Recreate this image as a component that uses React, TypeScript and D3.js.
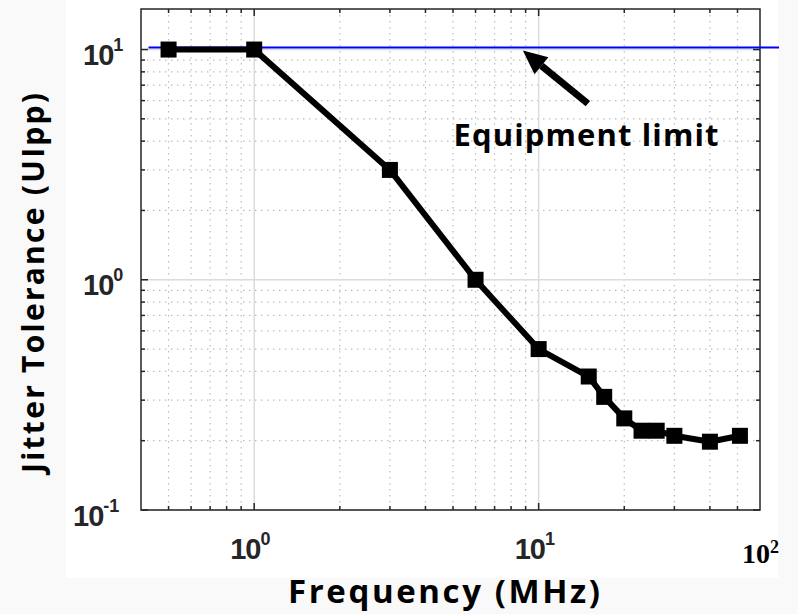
import React from "react";
import * as d3 from "d3";

const freqMHz = [0.5, 1, 3, 6, 10, 15, 17, 20, 23, 26, 30, 40, 51];
const jitterUIpp = [10, 10, 3.0, 1.0, 0.5, 0.38, 0.31, 0.25, 0.221, 0.221, 0.21, 0.198, 0.21];
const xMajorTicks = [1, 10];
const xMinorTicks = [0.5, 0.6, 0.7, 0.8, 0.9, 2, 3, 4, 5, 6, 7, 8, 9, 20, 30, 40, 50];
const yMajorTicks = [0.1, 1, 10];
const yMinorTicks = [0.2, 0.3, 0.4, 0.5, 0.6, 0.7, 0.8, 0.9, 2, 3, 4, 5, 6, 7, 8, 9];
const yTickLabels = [{ v: 10, exp: "1" }, { v: 1, exp: "0" }, { v: 0.1, exp: "-1" }];
const xTickLabels = [{ v: 1, exp: "0" }, { v: 10, exp: "1" }];
const limitLine = { from: 0.425, to: 70, value: 10.2 };
const arrowAnn = { tailX: 14.9, tailY: 5.82, tipX: 8.8, tipY: 9.9 };
const labelAnn = { x: 5.02, y: 3.83, text: "Equipment limit" };

export default function App() {
  const W = 798, H = 614;
  const x = d3.scaleLog().domain([0.4, 60]).range([141, 760]);
  const y = d3.scaleLog().domain([0.1, 15]).range([510, 9]);
  const [x0, x1] = x.range();
  const [y0, y1] = y.range();
  const line = d3.line<number>().x((_, i) => x(freqMHz[i])).y((d) => y(d));
  const axisColor = "#262626";
  const dotted = { stroke: "#bdbdbd", strokeWidth: 1.2, strokeDasharray: "1.5,4.5" };
  const tickFont = "'Liberation Sans', Arial, sans-serif";
  const titleFont = "'Open Sans', sans-serif";

  const ax1 = x(arrowAnn.tailX), ay1 = y(arrowAnn.tailY);
  const ax2 = x(arrowAnn.tipX), ay2 = y(arrowAnn.tipY);
  const ang = Math.atan2(ay2 - ay1, ax2 - ax1);
  const headLen = 24, headW = 11;
  const bx = ax2 - headLen * Math.cos(ang), by = ay2 - headLen * Math.sin(ang);
  const px = -Math.sin(ang), py = Math.cos(ang);

  return (
    <svg width={W} height={H} style={{ position: "absolute", left: 0, top: 0 }}>
      <rect x={0} y={0} width={W} height={H} fill="#f9f9f9" />
      <rect x={66} y={0} width={712} height={578} fill="#ffffff" />
      {xMinorTicks.map((t) => (
        <line key={"gx" + t} x1={x(t)} x2={x(t)} y1={y1} y2={y0} {...dotted} />
      ))}
      {yMinorTicks.map((t) => (
        <line key={"gy" + t} x1={x0} x2={x1} y1={y(t)} y2={y(t)} {...dotted} />
      ))}
      {xMajorTicks.map((t) => (
        <line key={"GX" + t} x1={x(t)} x2={x(t)} y1={y1} y2={y0} stroke="#dcdcdc" strokeWidth={1.5} />
      ))}
      {yMajorTicks.map((t) => (
        <line key={"GY" + t} x1={x0} x2={x1} y1={y(t)} y2={y(t)} stroke="#dcdcdc" strokeWidth={1.5} />
      ))}
      {xMinorTicks.map((t) => (
        <g key={"tx" + t}>
          <line x1={x(t)} x2={x(t)} y1={y0} y2={y0 - 4} stroke={axisColor} strokeWidth={1.5} />
          <line x1={x(t)} x2={x(t)} y1={y1} y2={y1 + 4} stroke={axisColor} strokeWidth={1.5} />
        </g>
      ))}
      {xMajorTicks.map((t) => (
        <g key={"TX" + t}>
          <line x1={x(t)} x2={x(t)} y1={y0} y2={y0 - 7} stroke={axisColor} strokeWidth={1.5} />
          <line x1={x(t)} x2={x(t)} y1={y1} y2={y1 + 7} stroke={axisColor} strokeWidth={1.5} />
        </g>
      ))}
      {yMinorTicks.map((t) => (
        <g key={"ty" + t}>
          <line x1={x0} x2={x0 + 4} y1={y(t)} y2={y(t)} stroke={axisColor} strokeWidth={1.5} />
          <line x1={x1} x2={x1 - 4} y1={y(t)} y2={y(t)} stroke={axisColor} strokeWidth={1.5} />
        </g>
      ))}
      {yMajorTicks.map((t) => (
        <g key={"TY" + t}>
          <line x1={x0} x2={x0 + 7} y1={y(t)} y2={y(t)} stroke={axisColor} strokeWidth={1.5} />
          <line x1={x1} x2={x1 - 7} y1={y(t)} y2={y(t)} stroke={axisColor} strokeWidth={1.5} />
        </g>
      ))}
      <rect x={x0} y={y1} width={x1 - x0} height={y0 - y1} fill="none" stroke={axisColor} strokeWidth={1.5} />
      <line x1={x(limitLine.from)} x2={x(limitLine.to)} y1={y(limitLine.value)} y2={y(limitLine.value)} stroke="#0000ff" strokeWidth={2} />
      <path d={line(jitterUIpp) || ""} fill="none" stroke="#000" strokeWidth={6} strokeLinejoin="round" />
      {jitterUIpp.map((v, i) => (
        <rect key={"m" + i} x={x(freqMHz[i]) - 8} y={y(v) - 8} width={16} height={16} fill="#000" />
      ))}
      <line x1={ax1} y1={ay1} x2={bx} y2={by} stroke="#000" strokeWidth={7} />
      <polygon
        points={`${ax2},${ay2} ${bx + px * headW},${by + py * headW} ${bx - px * headW},${by - py * headW}`}
        fill="#000"
      />
      <text x={x(labelAnn.x)} y={y(labelAnn.y)} fontFamily={titleFont} fontWeight="bold" fontSize={31} fill="#000" textLength={265} lengthAdjust="spacing">
        {labelAnn.text}
      </text>
      {yTickLabels.map((d) => (
        <text key={"yl" + d.v} x={d.exp === "-1" ? 73 : 83} y={y(d.v) + (d.v === 0.1 ? 16 : 15)} fontFamily={tickFont} fontWeight="bold" fontSize={29} fill={axisColor} letterSpacing={-1}>
          10
          <tspan dy={-14} fontSize={18} letterSpacing={0}>{d.exp}</tspan>
        </text>
      ))}
      {xTickLabels.map((d) => (
        <text key={"xl" + d.v} x={x(d.v) - 24} y={559} fontFamily={tickFont} fontWeight="bold" fontSize={29} fill={axisColor} letterSpacing={-1}>
          10
          <tspan dy={-14} fontSize={18} letterSpacing={0}>{d.exp}</tspan>
        </text>
      ))}
      <text x={742} y={563} fontFamily="'Liberation Serif', 'Times New Roman', serif" fontWeight="bold" fontSize={28} fill="#000">
        10
        <tspan dy={-10} fontSize={18}>2</tspan>
      </text>
      <text x={444} y={603} textAnchor="middle" fontFamily={titleFont} fontWeight="bold" fontSize={33} fill="#000" textLength={312} lengthAdjust="spacing">
        Frequency (MHz)
      </text>
      <text transform={`translate(44,${(93 + 473) / 2}) rotate(-90)`} textAnchor="middle" fontFamily={titleFont} fontWeight="bold" fontSize={30} fill="#000" textLength={380} lengthAdjust="spacing">
        Jitter Tolerance (UIpp)
      </text>
    </svg>
  );
}
